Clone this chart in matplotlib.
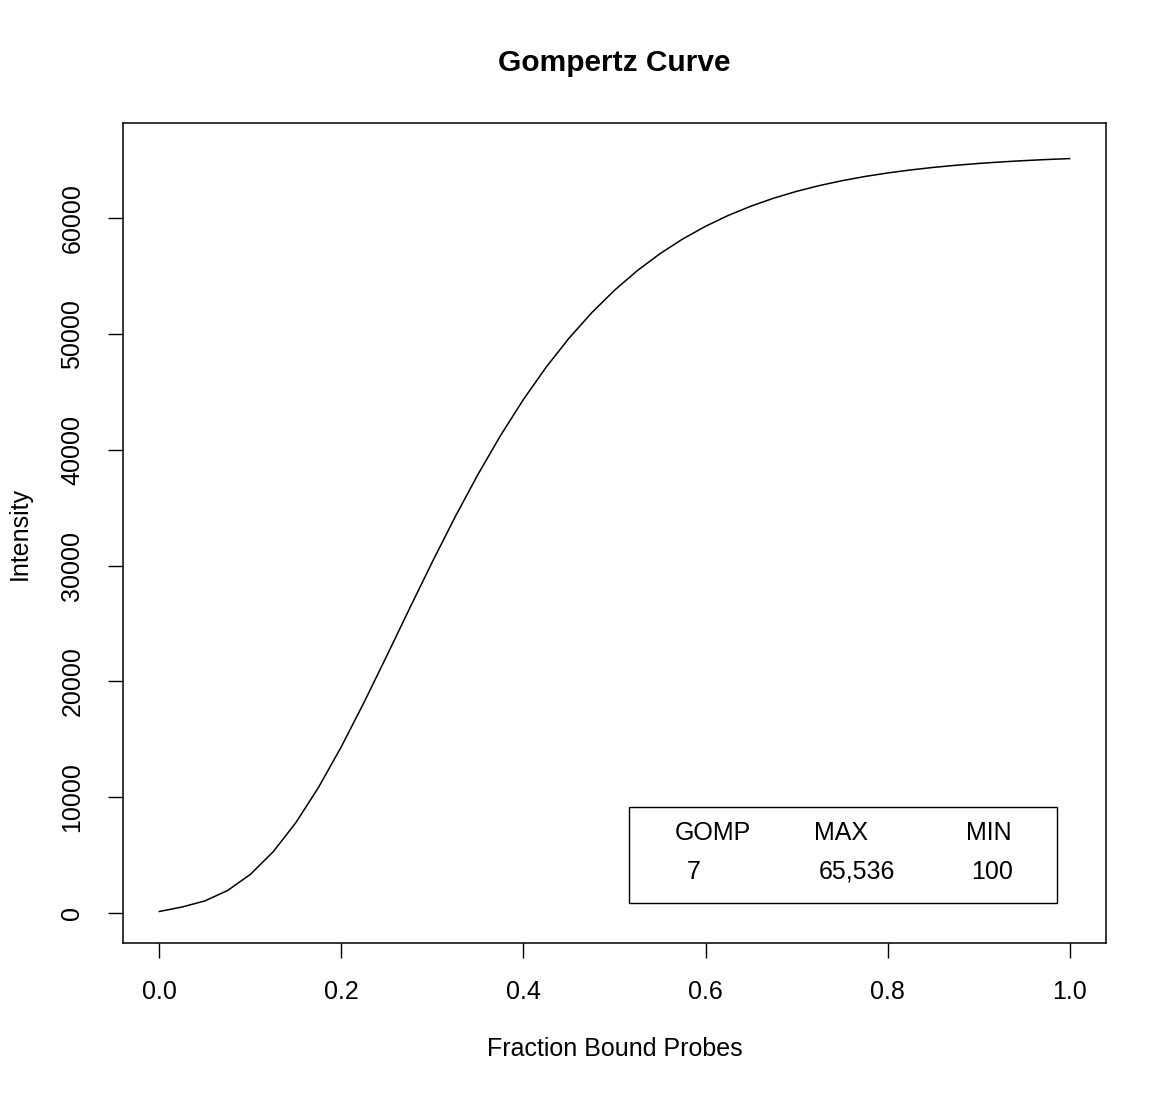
import matplotlib
matplotlib.use("Agg")
import matplotlib.pyplot as plt
from matplotlib.patches import Rectangle

plt.rcParams['font.family'] = ['Liberation Sans', 'DejaVu Sans']

# Curve values
fraction_bound = [0.0, 0.025, 0.05, 0.075, 0.1, 0.125, 0.15, 0.175, 0.2, 0.225,
                  0.25, 0.275, 0.3, 0.325, 0.35, 0.375, 0.4, 0.425, 0.45, 0.475,
                  0.5, 0.525, 0.55, 0.575, 0.6, 0.625, 0.65, 0.675, 0.7, 0.725,
                  0.75, 0.775, 0.8, 0.825, 0.85, 0.875, 0.9, 0.925, 0.95, 0.975, 1.0]
intensity = [160, 546, 1072, 1974, 3362, 5309, 7830, 10888, 14391, 18220,
             22239, 26318, 30339, 34209, 37859, 41241, 44330, 47117, 49606, 51808,
             53743, 55432, 56899, 58168, 59260, 60198, 61001, 61687, 62273, 62771,
             63194, 63554, 63859, 64118, 64337, 64523, 64680, 64813, 64925, 65020, 65100]

x_ticks = [0.0, 0.2, 0.4, 0.6, 0.8, 1.0]
x_tick_labels = ["0.0", "0.2", "0.4", "0.6", "0.8", "1.0"]
y_ticks = [0, 10000, 20000, 30000, 40000, 50000, 60000]
y_tick_labels = ["0", "10000", "20000", "30000", "40000", "50000", "60000"]

legend_headers = ["GOMP", "MAX", "MIN"]
legend_values = ["7", "65,536", "100"]

W, H = 1170, 1097
fig = plt.figure(figsize=(W / 100, H / 100), dpi=100)
ax = fig.add_axes([123 / W, 154 / H, 983 / W, 820 / H])

ax.plot(fraction_bound, intensity, color='black', linewidth=1.1,
        solid_joinstyle='round')
ax.set_xlim(-0.04, 1.04)
ax.set_ylim(-2560, 68170)

ax.set_xticks(x_ticks)
ax.set_xticklabels(x_tick_labels)
ax.set_yticks(y_ticks)
ax.set_yticklabels(y_tick_labels, rotation=90, va='center')

ax.tick_params(axis='both', direction='out', length=10.8, width=1.0,
               labelsize=18, color='black')
ax.tick_params(axis='x', pad=16)
ax.tick_params(axis='y', pad=17)
for s in ax.spines.values():
    s.set_linewidth(1.1)
    s.set_color('black')

# Legend-like box
ax.add_patch(Rectangle((0.5146, 0.0491), 0.9500 - 0.5146, 0.1655 - 0.0491,
                       transform=ax.transAxes, fill=False, edgecolor='black',
                       linewidth=1.0))
header_x = [0.6002, 0.7302, 0.8803]
value_x = [0.5806, 0.7464, 0.8842]
for hx, t in zip(header_x, legend_headers):
    ax.text(hx, 0.1338, t, transform=ax.transAxes, ha='center', va='center',
            fontsize=18)
for vx, t in zip(value_x, legend_values):
    ax.text(vx, 0.0870, t, transform=ax.transAxes, ha='center', va='center',
            fontsize=18)

fig.text(614.5 / W, 1 - 63 / H, "Gompertz Curve", ha='center', va='center',
         fontsize=21.5, fontweight='bold')
fig.text(614.5 / W, 1 - 1049 / H, "Fraction Bound Probes", ha='center',
         va='center', fontsize=18)
fig.text(20 / W, 1 - 533 / H, "Intensity", ha='center', va='center',
         rotation=90, fontsize=18)

fig.savefig("out.png", dpi=100, facecolor='white')
